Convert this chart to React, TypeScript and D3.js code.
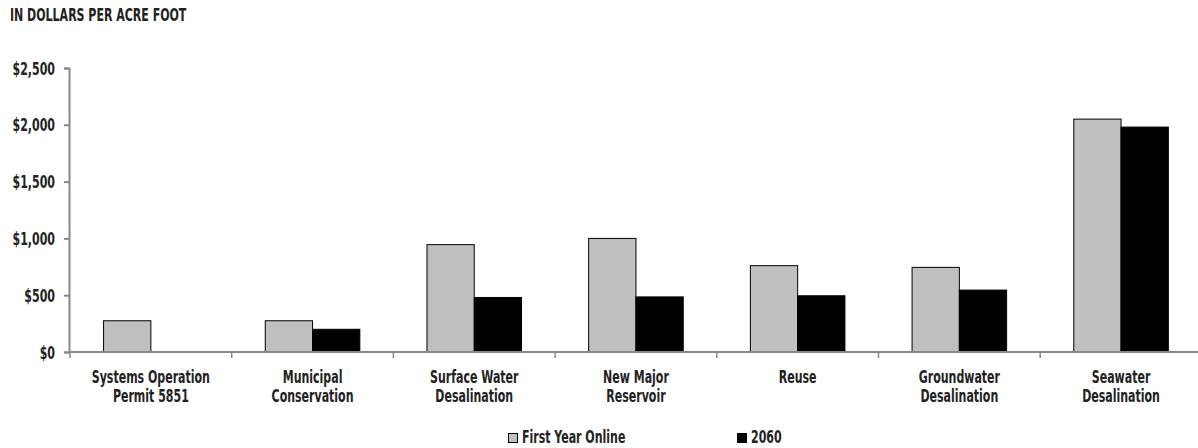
import React, { useEffect, useRef } from 'react'
import * as d3 from 'd3'

const categories = [
  ['Systems Operation', 'Permit 5851'],
  ['Municipal', 'Conservation'],
  ['Surface Water', 'Desalination'],
  ['New Major', 'Reservoir'],
  ['Reuse'],
  ['Groundwater', 'Desalination'],
  ['Seawater', 'Desalination'],
]
const firstYear = [275, 275, 945, 1000, 760, 745, 2050]
const year2060 = [0, 200, 480, 485, 495, 545, 1980]
const seriesNames = ['First Year Online', '2060']
const seriesColors = ['#c0c0c0', '#000000']
const yTicks = [0, 500, 1000, 1500, 2000, 2500]

const FONT = '"DejaVu Sans Condensed", "DejaVu Sans", sans-serif'
const SX = 0.72 // squeeze text horizontally to get a narrow face

export default function App() {
  const svgRef = useRef<SVGSVGElement | null>(null)

  useEffect(() => {
    const svg = d3.select(svgRef.current)
    svg.selectAll('*').remove()

    const label = (x: number, y: number, txt: string, anchor = 'start') =>
      svg
        .append('text')
        .attr('transform', `translate(${x},${y}) scale(${SX},1)`)
        .attr('text-anchor', anchor)
        .attr('font-family', FONT)
        .attr('font-size', 17)
        .attr('font-weight', 'bold')
        .attr('fill', '#222')
        .text(txt)

    const left = 70
    const top = 68
    const bottom = 352
    const band = 161.7

    const x = d3
      .scaleBand<number>()
      .domain(d3.range(categories.length))
      .range([left, left + band * categories.length])
    const inner = d3
      .scaleBand<number>()
      .domain([0, 1])
      .range([0, x.bandwidth()])
      .paddingOuter(0.71)
    const y = d3.scaleLinear().domain([0, 2500]).range([bottom, top])

    label(10, 21, 'IN DOLLARS PER ACRE FOOT')

    // bars
    const groups = svg
      .selectAll('.cat')
      .data(categories.map((_, i) => i))
      .enter()
      .append('g')
      .attr('transform', (i) => `translate(${x(i)},0)`)

    groups.each(function (i) {
      const g = d3.select(this)
      const vals = [firstYear[i], year2060[i]]
      vals.forEach((v, s) => {
        if (v <= 0) return
        g.append('rect')
          .attr('x', inner(s)!)
          .attr('y', y(v))
          .attr('width', inner.bandwidth())
          .attr('height', bottom - y(v))
          .attr('fill', seriesColors[s])
          .attr('stroke', '#000')
          .attr('stroke-width', 1)
      })
    })

    // y axis
    const yAxis = d3.axisLeft(y).tickValues(yTicks).tickSize(5).tickFormat(() => '')
    const ya = svg.append('g').attr('transform', `translate(${left - 1},0)`).call(yAxis)
    ya.select('.domain').attr('stroke', '#888').attr('stroke-width', 2)
    ya.selectAll('.tick line').attr('stroke', '#888').attr('stroke-width', 2)
    yTicks.forEach((t) => label(55, y(t) + 6.5, '$' + d3.format(',')(t), 'end'))

    // x axis
    const xa = svg.append('g')
    xa.append('line')
      .attr('x1', left - 1)
      .attr('x2', left + band * categories.length)
      .attr('y1', bottom)
      .attr('y2', bottom)
      .attr('stroke', '#888')
      .attr('stroke-width', 2)
    xa.selectAll('.xt')
      .data(d3.range(categories.length + 1))
      .enter()
      .append('line')
      .attr('x1', (i) => left + band * i)
      .attr('x2', (i) => left + band * i)
      .attr('y1', bottom)
      .attr('y2', bottom + 6)
      .attr('stroke', '#888')
      .attr('stroke-width', 1.5)

    categories.forEach((lines, i) => {
      lines.forEach((l, k) => {
        label(x(i)! + x.bandwidth() / 2, 383 + k * 19, l, 'middle')
      })
    })

    // legend
    const legendX = [508, 737]
    seriesNames.forEach((name, s) => {
      svg
        .append('rect')
        .attr('x', legendX[s] + 0.5)
        .attr('y', 433.5)
        .attr('width', 9)
        .attr('height', 9)
        .attr('fill', seriesColors[s])
        .attr('stroke', '#000')
        .attr('stroke-width', 1)
      label(legendX[s] + 14, 443, name)
    })
  }, [])

  return (
    <svg
      ref={svgRef}
      width={1198}
      height={448}
      style={{ position: 'absolute', left: 0, top: 0, background: '#fff' }}
    />
  )
}
